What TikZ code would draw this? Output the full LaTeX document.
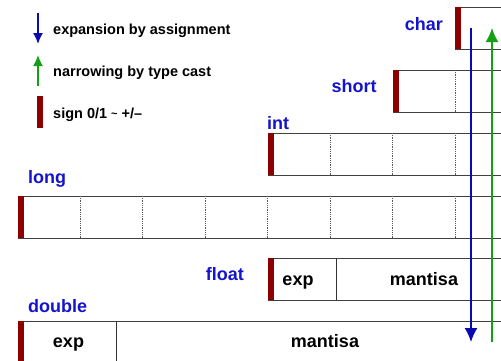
\documentclass[tikz,border=0pt]{standalone}
\usepackage{fontspec}
\setmainfont{Liberation Sans}
\usetikzlibrary{positioning,arrows.meta}
\definecolor{typeblue}{RGB}{20,20,205}
\definecolor{arrowblue}{RGB}{10,10,175}
\definecolor{arrowgreen}{RGB}{20,160,20}
\definecolor{signred}{RGB}{140,0,0}
\tikzstyle{typebox}=[draw=black!75, line width=0.9pt, anchor=north west, minimum height=42pt, inner sep=0pt]
\tikzstyle{typename}=[text=typeblue, font=\bfseries\fontsize{18}{20}\selectfont, inner sep=0pt]
\tikzstyle{field}=[font=\bfseries\fontsize{18}{20}\selectfont, inner sep=0pt, anchor=base]
\tikzstyle{legend}=[font=\bfseries\fontsize{14.5}{16}\selectfont, anchor=base west, inner sep=0pt]
\tikzstyle{bytesep}=[densely dotted, black!65, line width=0.8pt]
\tikzstyle{widen}=[arrowblue, line width=1.6pt, -{Latex[length=14pt,width=13pt]}]
\tikzstyle{narrow}=[arrowgreen, line width=1.6pt, -{Latex[length=14pt,width=13pt]}]

\begin{document}
\begin{tikzpicture}[x=1pt,y=-1pt]
\useasboundingbox (0,0) rectangle (501,360);
\clip (0,0) rectangle (501,360);
% legend
\coordinate (lb1) at (38,13);
\coordinate (lb2) at (38,44);
\coordinate (lg1) at (38,86);
\coordinate (lg2) at (38,55);
\draw[widen, -{Latex[length=11pt,width=10pt]}] (lb1) -- (lb2);
\draw[narrow, -{Latex[length=11pt,width=10pt]}] (lg1) -- (lg2);
\fill[signred] (36.5,96) rectangle (42.5,128);
\node[legend] (lexp) at (53,34) {expansion by assignment};
\node[legend] (lnar) at (53,76) {narrowing by type cast};
\node[legend] (lsig) at (53,118) {sign 0/1 \raisebox{1pt}{\fontsize{11}{11}\selectfont\char"7E} +/--};
% integer types
\node[typebox, minimum width=62.5pt] (char) at (455,7) {};
\node[typebox, minimum width=125pt] (short) at (392.5,70) {};
\node[typebox, minimum width=250pt] (int) at (267.5,133) {};
\node[typebox, minimum width=500pt] (long) at (17.5,196) {};
\foreach \i in {1}
  \draw[bytesep] ([xshift=62.5*\i pt]short.north west) -- ([xshift=62.5*\i pt]short.south west);
\foreach \i in {1,...,3}
  \draw[bytesep] ([xshift=62.5*\i pt]int.north west) -- ([xshift=62.5*\i pt]int.south west);
\foreach \i in {1,...,7}
  \draw[bytesep] ([xshift=62.5*\i pt]long.north west) -- ([xshift=62.5*\i pt]long.south west);
\node[typename, anchor=base east] (charname) at (443,30) {char};
\node[typename, anchor=base] (shortname) at (354,92) {short};
\node[typename, anchor=base west] (intname) at (267,129) {int};
\node[typename, anchor=base west] (longname) at (28,183) {long};
% floating types
\node[typebox, minimum width=250pt] (float) at (267.5,258) {};
\node[typebox, minimum width=500pt] (double) at (17.5,321) {};
\draw[black!80, line width=0.9pt] ([xshift=69pt]float.north west) -- ([xshift=69pt]float.south west);
\draw[black!80, line width=0.9pt] ([xshift=98.5pt]double.north west) -- ([xshift=98.5pt]double.south west);
\node[typename, anchor=base east] (floatname) at (244,280) {float};
\node[typename, anchor=base west] (doublename) at (28,312) {double};
\node[field] (fexp) at (298,285) {exp};
\node[field] (fman) at (424,285) {mantisa};
\node[field] (dexp) at (68.5,347) {exp};
\node[field] (dman) at (325,347) {mantisa};
% sign bits
\foreach \t in {char,short,int,long,float,double}
  \fill[signred] (\t.north west) rectangle ++(6,42);
% conversions
\coordinate (wtop) at (471,28);
\coordinate (wbot) at (471,342);
\coordinate (nbot) at (492,342);
\coordinate (ntop) at (492,28);
\draw[widen] (wtop) -- (wbot);
\draw[narrow] (nbot) -- (ntop);
\end{tikzpicture}
\end{document}
